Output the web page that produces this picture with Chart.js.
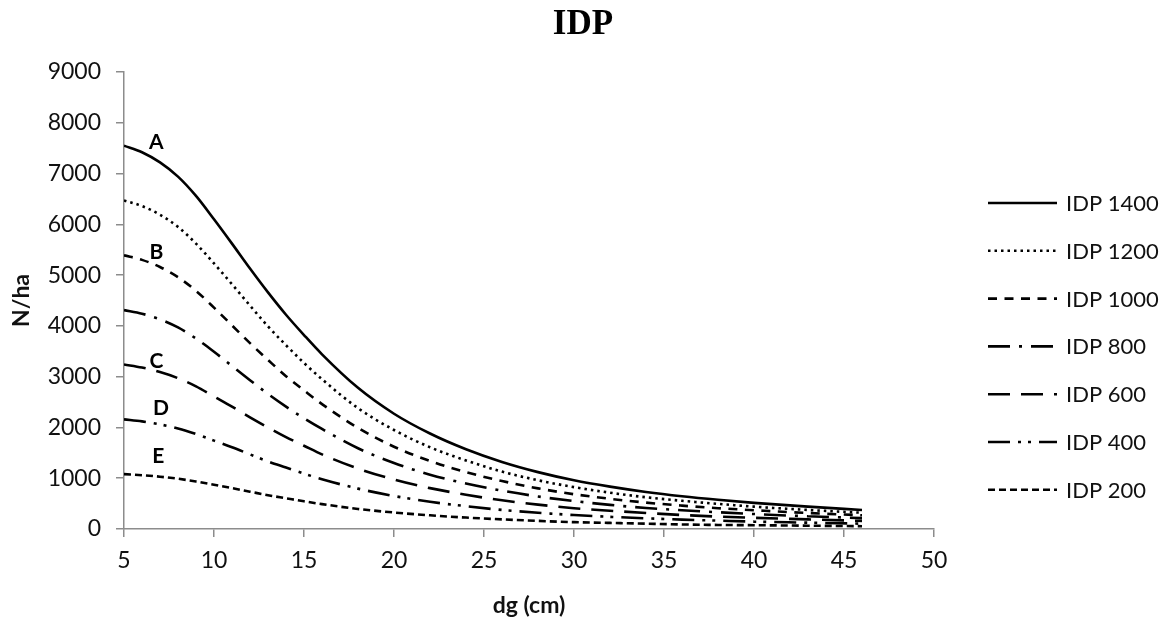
<!DOCTYPE html>
<html>
<head>
<meta charset="utf-8">
<title>IDP</title>
<script src="https://cdn.jsdelivr.net/npm/chart.js@4.4.1/dist/chart.umd.min.js"></script>
<style>
    html, body { margin: 0; padding: 0; background: #fff; }
    #wrap { width: 1175px; height: 621px; }
</style>
</head>
<body>
<div id="wrap"><canvas id="idpChart" width="1175" height="621"></canvas></div>
<script>
// dg (cm) at which each curve is sampled
const dg = [5, 6, 7, 8, 9, 10, 11, 12, 13, 14, 15, 16, 18, 20, 22, 24, 26, 28, 30, 32, 34, 36, 38, 40, 43, 46];

// N/ha for each IDP level
const idp1400 = [7550, 7420, 7220, 6940, 6560, 6100, 5620, 5130, 4660, 4220, 3820, 3440, 2780, 2270, 1880, 1570, 1320, 1120, 960, 835, 730, 645, 575, 515, 440, 375];
const idp1200 = [6470, 6360, 6190, 5950, 5620, 5230, 4820, 4400, 3990, 3620, 3270, 2950, 2380, 1950, 1610, 1350, 1130, 960, 825, 715, 625, 555, 495, 440, 375, 320];
const idp1000 = [5390, 5300, 5160, 4960, 4690, 4360, 4010, 3660, 3330, 3010, 2730, 2460, 1990, 1620, 1340, 1120, 945, 800, 685, 595, 520, 460, 410, 370, 315, 270];
const idp800 = [4310, 4240, 4130, 3970, 3750, 3490, 3210, 2930, 2660, 2410, 2180, 1970, 1590, 1300, 1070, 895, 755, 640, 550, 475, 415, 370, 330, 295, 250, 215];
const idp600 = [3240, 3180, 3090, 2970, 2810, 2610, 2410, 2200, 2000, 1810, 1640, 1470, 1190, 975, 805, 675, 565, 480, 410, 360, 315, 275, 245, 220, 190, 160];
const idp400 = [2160, 2120, 2060, 1980, 1870, 1740, 1610, 1470, 1330, 1210, 1090, 980, 795, 650, 535, 450, 375, 320, 275, 240, 210, 185, 165, 145, 125, 105];
const idp200 = [1080, 1060, 1030, 990, 935, 870, 805, 735, 665, 605, 545, 490, 395, 325, 270, 225, 190, 160, 135, 120, 105, 90, 80, 75, 65, 55];

const seriesNames = ['IDP 1400', 'IDP 1200', 'IDP 1000', 'IDP 800', 'IDP 600', 'IDP 400', 'IDP 200'];
const seriesValues = [idp1400, idp1200, idp1000, idp800, idp600, idp400, idp200];

// letters written next to the curves, anchored in data units (dg, N/ha)
const curveLetters = ['A', 'B', 'C', 'D', 'E'];
const letterAnchors = [[6.8, 7620], [6.8, 5450], [6.8, 3310], [7.05, 2380], [6.9, 1430]];

const xTicks = { min: 5, max: 50, step: 5 };
const yTicks = { min: 0, max: 9000, step: 1000 };

const dashes = [
    [],
    [2.5, 4],
    [9, 7.5],
    [22, 9, 3, 9],
    [22, 11],
    [22, 8, 3, 7, 3, 8],
    [7, 4]
];

const sansFont = 'Lato, "Open Sans", sans-serif';
const axisGrey = '#8c8c8c';

const datasets = seriesNames.map(function (name, i) {
    return {
        label: name,
        data: dg.map(function (d, j) { return { x: d, y: seriesValues[i][j] }; }),
        borderColor: '#000',
        borderWidth: 2.6,
        borderDash: dashes[i],
        borderCapStyle: 'butt',
        pointRadius: 0,
        fill: false,
        cubicInterpolationMode: 'monotone'
    };
});

// Title, centred over the whole figure rather than the plot area
const figureTitle = {
    id: 'figureTitle',
    afterDraw: function (chart) {
        const ctx = chart.ctx;
        ctx.save();
        ctx.fillStyle = '#000';
        ctx.font = 'bold 35px "Liberation Serif", "Times New Roman", serif';
        ctx.textAlign = 'center';
        ctx.textBaseline = 'alphabetic';
        ctx.fillText('IDP', 583, 34);
        ctx.restore();
    }
};

// Legend on the right: line sample followed by the series name
const sideLegend = {
    id: 'sideLegend',
    afterDraw: function (chart) {
        const ctx = chart.ctx;
        const x0 = 988, x1 = 1057, textX = 1066;
        const top = 203, step = 47.8;
        ctx.save();
        chart.data.datasets.forEach(function (ds, i) {
            const y = top + i * step;
            ctx.strokeStyle = '#000';
            ctx.lineWidth = ds.borderWidth;
            ctx.setLineDash(ds.borderDash);
            ctx.lineCap = 'butt';
            ctx.beginPath();
            ctx.moveTo(x0, y);
            ctx.lineTo(x1, y);
            ctx.stroke();
            ctx.setLineDash([]);
            ctx.fillStyle = '#111';
            ctx.font = '22px ' + sansFont;
            ctx.textAlign = 'left';
            ctx.textBaseline = 'middle';
            ctx.fillText(ds.label, textX, y + 1);
        });
        ctx.restore();
    }
};

// Curve letters A–E
const curveTags = {
    id: 'curveTags',
    afterDatasetsDraw: function (chart) {
        const ctx = chart.ctx;
        const xs = chart.scales.x, ys = chart.scales.y;
        ctx.save();
        ctx.fillStyle = '#000';
        ctx.font = 'bold 21px ' + sansFont;
        ctx.textAlign = 'center';
        ctx.textBaseline = 'middle';
        curveLetters.forEach(function (t, i) {
            ctx.fillText(t, xs.getPixelForValue(letterAnchors[i][0]), ys.getPixelForValue(letterAnchors[i][1]));
        });
        ctx.restore();
    }
};

const ctx = document.getElementById('idpChart').getContext('2d');
const idpChart = new Chart(ctx, {
    type: 'line',
    data: { datasets: datasets },
    options: {
        responsive: false,
        animation: false,
        layout: { padding: { left: 0, right: 241, top: 72, bottom: 0 } },
        plugins: {
            legend: { display: false },
            tooltip: { enabled: false },
            title: { display: false }
        },
        scales: {
            x: {
                type: 'linear',
                min: xTicks.min,
                max: xTicks.max,
                afterFit: function (s) { s.height = 92; },
                ticks: {
                    stepSize: xTicks.step,
                    color: '#111',
                    padding: 10,
                    font: { family: sansFont, size: 23 }
                },
                grid: { drawOnChartArea: false, drawTicks: true, tickLength: 8, color: axisGrey, lineWidth: 1.5 },
                border: { color: axisGrey, width: 1.5 },
                title: {
                    display: true,
                    text: 'dg (cm)',
                    color: '#111',
                    font: { family: sansFont, size: 23, weight: 'bold' },
                    padding: { top: 2, bottom: 2 }
                }
            },
            y: {
                min: yTicks.min,
                max: yTicks.max,
                afterFit: function (s) { s.width = 124; },
                ticks: {
                    stepSize: yTicks.step,
                    color: '#111',
                    padding: 15,
                    font: { family: sansFont, size: 23 },
                    callback: function (v) { return String(v); }
                },
                grid: { drawOnChartArea: false, drawTicks: true, tickLength: 8, color: axisGrey, lineWidth: 1.5 },
                border: { color: axisGrey, width: 1.5 },
                title: {
                    display: true,
                    text: 'N/ha',
                    color: '#111',
                    font: { family: sansFont, size: 23, weight: 'bold' },
                    padding: { top: 8, bottom: 8 }
                }
            }
        }
    },
    plugins: [sideLegend, curveTags, figureTitle]
});
</script>
</body>
</html>
